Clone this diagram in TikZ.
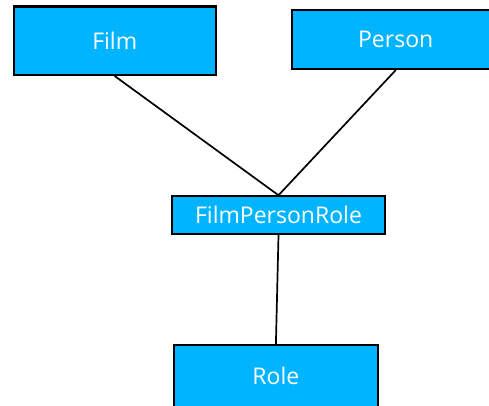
\documentclass[tikz,border=0pt]{standalone}
\usepackage{fontspec}
\setmainfont{Open Sans}
\definecolor{boxblue}{RGB}{0,180,255}
\begin{document}
\begin{tikzpicture}[x=1pt,y=-1pt,
  entity/.style={draw=black, line width=2.2pt, fill=boxblue, rectangle, inner sep=0pt,
    text=white, font=\fontsize{23}{27}\selectfont},
  link/.style={draw=black, line width=1.7pt}]
\useasboundingbox (0,0) rectangle (489,406);
\node[entity, minimum width=202pt, minimum height=68.5pt] (film) at (114.7,40.7) {Film};
\node[entity, minimum width=208pt, minimum height=58.7pt] (person) at (395.7,39.7) {Person};
\node[entity, minimum width=212.4pt, minimum height=37.7pt] (fpr) at (278.5,215.2) {FilmPersonRole};
\node[entity, minimum width=204.3pt, minimum height=62pt] (role) at (275.9,376) {Role};
\draw[link] (film.south) -- (fpr.north);
\draw[link] (person.south) -- (fpr.north);
\draw[link] (fpr.south) -- (role.north);
\end{tikzpicture}
\end{document}
